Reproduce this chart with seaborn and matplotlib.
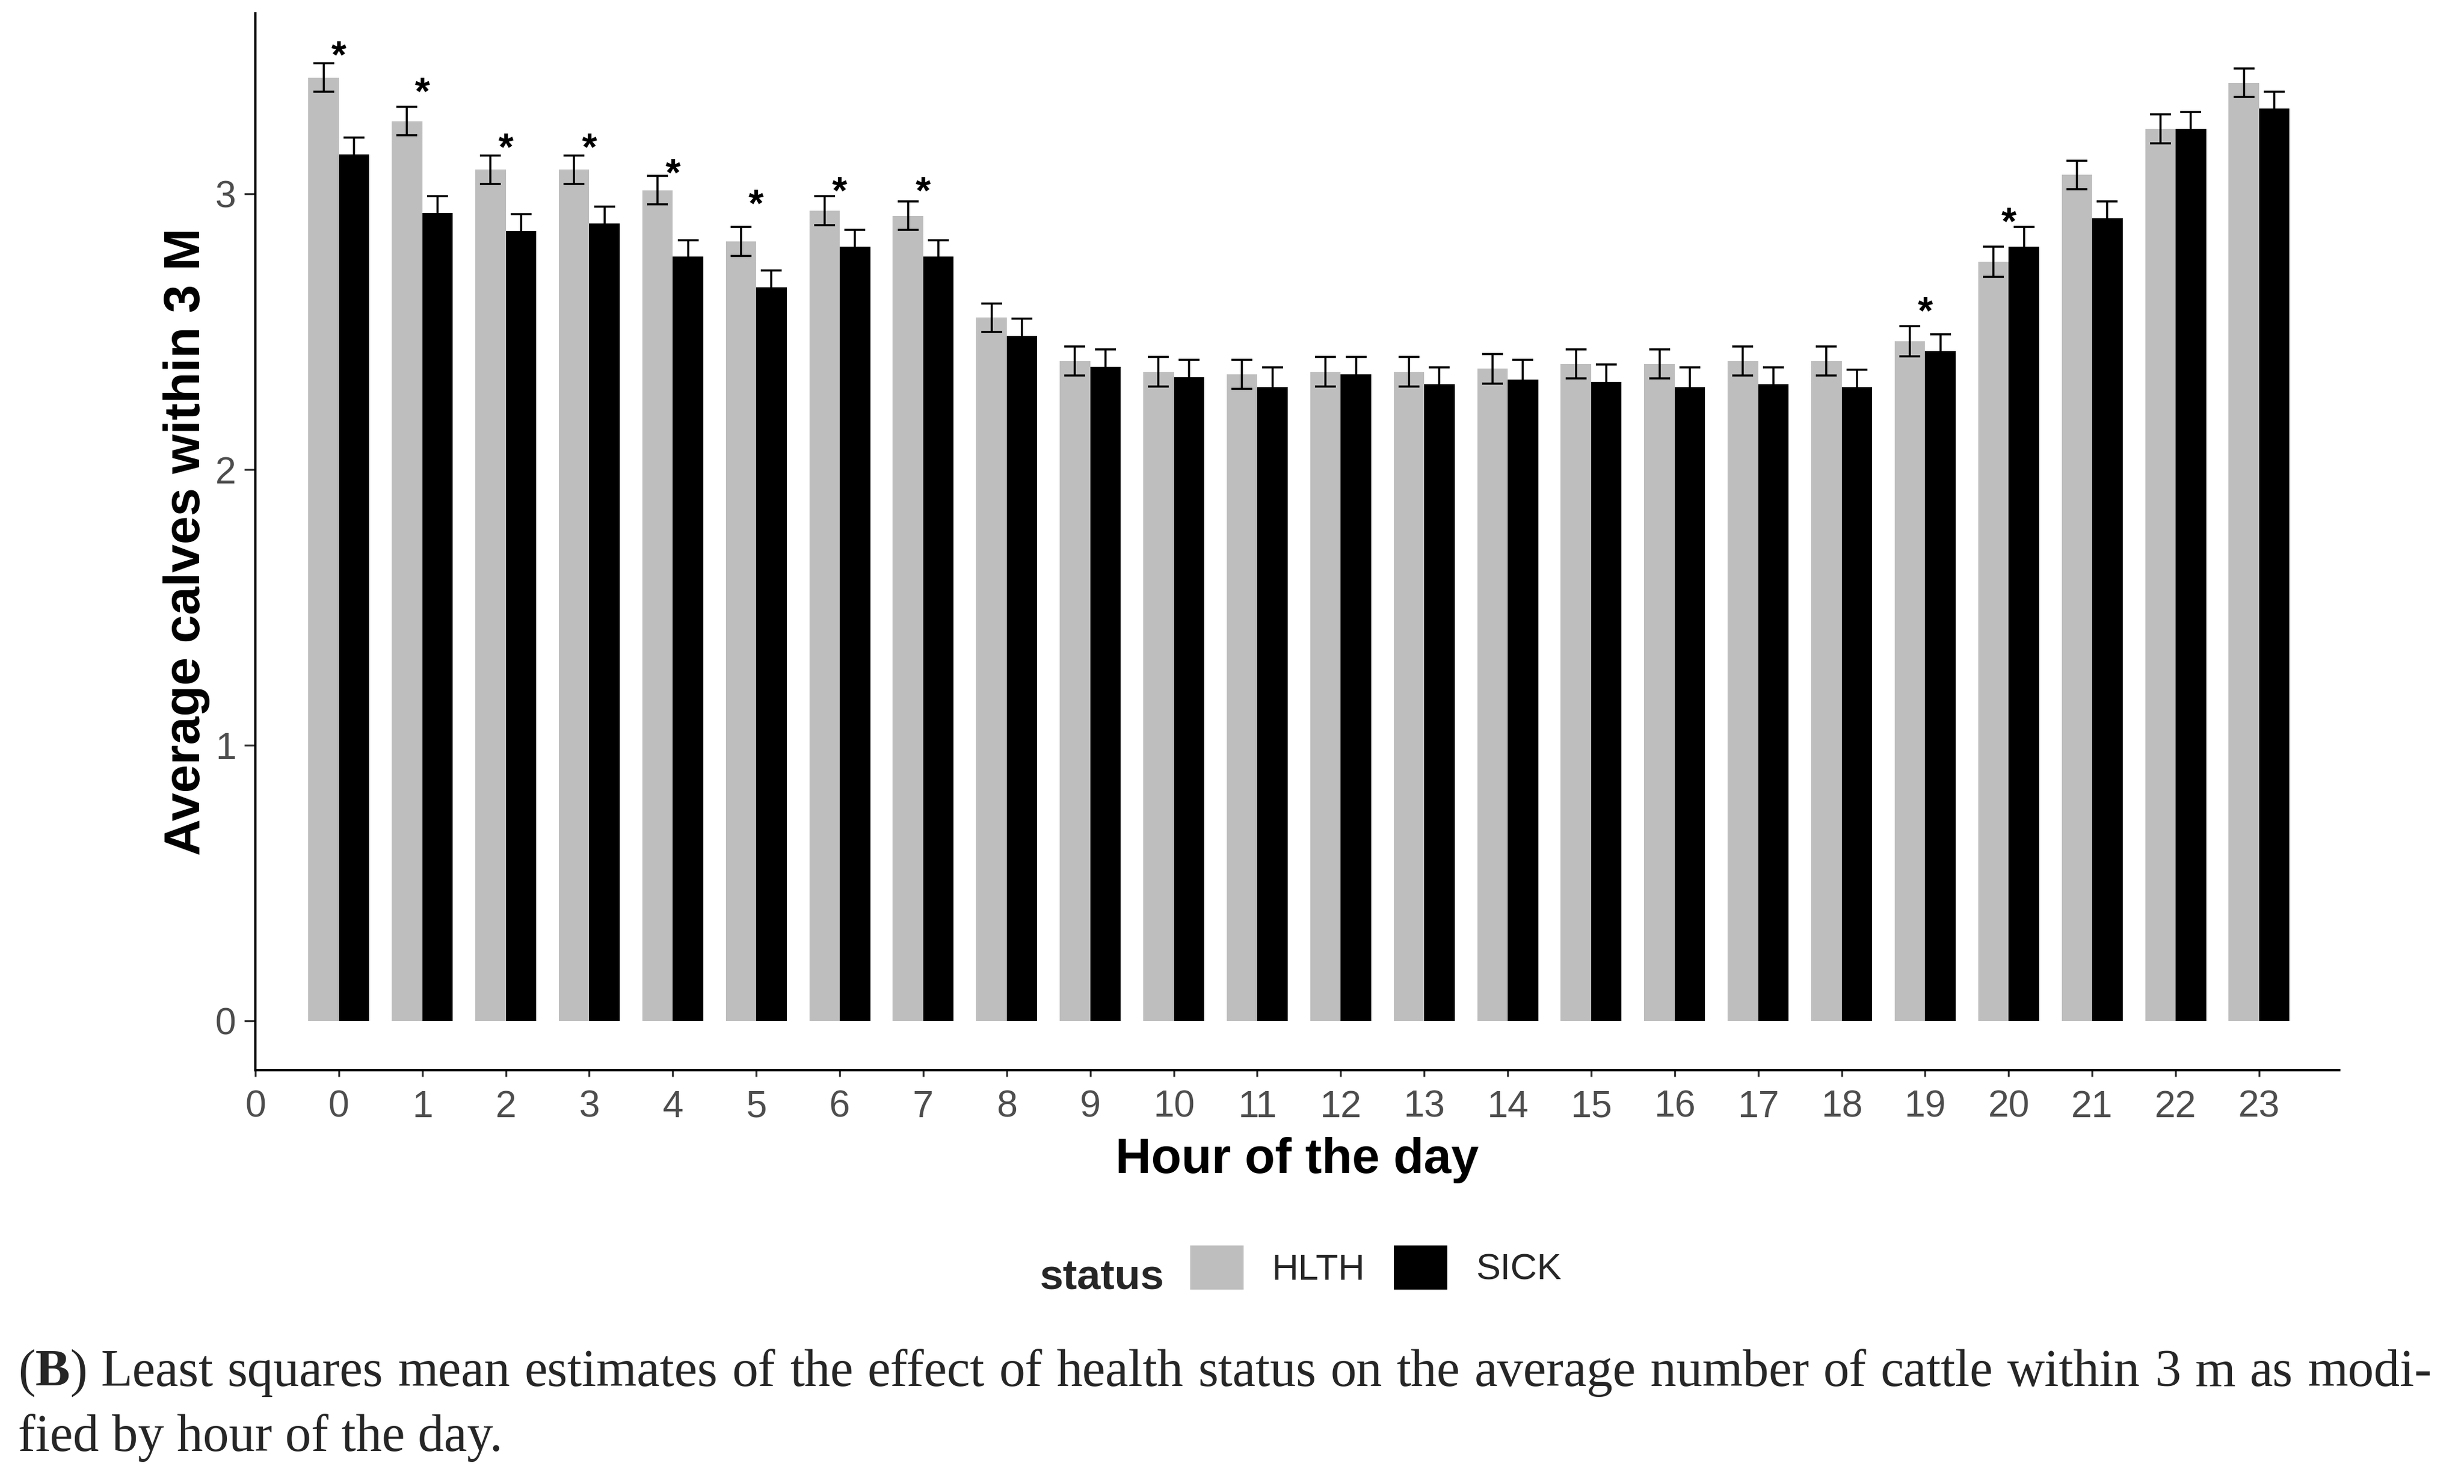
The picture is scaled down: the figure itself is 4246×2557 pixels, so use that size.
import matplotlib
import matplotlib.pyplot as plt
import pandas as pd
import seaborn as sns
from matplotlib.transforms import IdentityTransform

matplotlib.use('agg')

# values
hours = list(range(24))
status_levels = ['HLTH', 'SICK']
hlth_mean = [3.422, 3.264, 3.088, 3.088, 3.014, 2.828, 2.939, 2.921, 2.551, 2.394, 2.355, 2.346,
             2.355, 2.355, 2.366, 2.384, 2.384, 2.394, 2.394, 2.466, 2.754, 3.069, 3.236, 3.403]
hlth_se = [0.052, 0.052, 0.051, 0.051, 0.052, 0.052, 0.052, 0.052, 0.052, 0.052, 0.054, 0.052,
           0.054, 0.054, 0.053, 0.053, 0.053, 0.052, 0.052, 0.055, 0.054, 0.052, 0.053, 0.052]
sick_mean = [3.143, 2.930, 2.866, 2.893, 2.773, 2.661, 2.809, 2.773, 2.485, 2.374, 2.336, 2.300,
             2.346, 2.309, 2.327, 2.319, 2.300, 2.309, 2.300, 2.430, 2.809, 2.912, 3.236, 3.310]
sick_se = [0.062, 0.062, 0.061, 0.061, 0.060, 0.062, 0.061, 0.060, 0.062, 0.062, 0.062, 0.071,
           0.063, 0.062, 0.071, 0.062, 0.070, 0.062, 0.062, 0.061, 0.071, 0.061, 0.061, 0.061]

# significance stars (hour, height of star centre)
star_hours = [0, 1, 2, 3, 4, 5, 6, 7, 19, 20]
star_heights = [3.539, 3.408, 3.204, 3.204, 3.112, 3.000, 3.047, 3.047, 2.611, 2.935]

tick_positions = [-1] + hours
tick_labels = ['0'] + [str(h) for h in hours]
y_ticks = [0, 1, 2, 3]

caption_line1 = (r"($\mathbf{B}$) Least squares mean estimates of the effect of health status "
                 r"on the average number of cattle within 3 m as modi-")
caption_line2 = "fied by hour of the day."

palette = {'HLTH': '#BEBEBE', 'SICK': '#000000'}

df = pd.DataFrame({
    'hour': hours + hours,
    'status': ['HLTH'] * len(hours) + ['SICK'] * len(hours),
    'value': hlth_mean + sick_mean,
})
se_lookup = {'HLTH': dict(zip(hours, hlth_se)), 'SICK': dict(zip(hours, sick_se))}

sns.set_style('white')
plt.rcParams['font.family'] = ['Liberation Sans', 'DejaVu Sans']
plt.rcParams['mathtext.fontset'] = 'custom'
plt.rcParams['mathtext.rm'] = 'Liberation Serif'
plt.rcParams['mathtext.bf'] = 'Liberation Serif:bold'

W, H, DPI = 4246, 2557, 300
fig, ax = plt.subplots(figsize=(W / DPI, H / DPI), dpi=DPI)
fig.subplots_adjust(left=440 / W, right=4031 / W, top=1 - 23 / H, bottom=1 - 1844 / H)

sns.barplot(data=df, x='hour', y='value', hue='status', hue_order=status_levels,
            palette=palette, native_scale=True, width=0.73, errorbar=None,
            legend=False, linewidth=0, ax=ax)
bar_containers = list(ax.containers)

# error bars on top of each bar
for cont, level in zip(bar_containers, status_levels):
    xs, ys, es = [], [], []
    for bar in cont:
        cx = bar.get_x() + bar.get_width() / 2
        xs.append(cx)
        ys.append(bar.get_height())
        es.append(se_lookup[level][int(round(cx))])
    ax.errorbar(xs, ys, yerr=es, fmt='none', ecolor='black', elinewidth=0.85,
                capsize=4.3, capthick=0.85, zorder=3)

for h, sy in zip(star_hours, star_heights):
    ax.annotate('*', xy=(h, sy), xytext=(0, -0.575 * 16), textcoords='offset points',
                ha='center', va='baseline', fontsize=16, fontweight='bold', color='black')

ax.set_xlim(-1.0, 23.96)
ax.set_ylim(-0.178, 3.655)
ax.set_xticks(tick_positions)
ax.set_xticklabels(tick_labels)
ax.set_yticks(y_ticks)
ax.tick_params(axis='x', length=2.6, width=0.8, color='#333333', pad=5.5,
               labelsize=15.5, labelcolor='#4D4D4D', direction='out', bottom=True)
ax.tick_params(axis='y', length=4.5, width=0.8, color='#333333', pad=3.5,
               labelsize=15.5, labelcolor='#4D4D4D', direction='out', left=True)

sns.despine(ax=ax, top=True, right=True)
for side in ['left', 'bottom']:
    ax.spines[side].set_color('black')
    ax.spines[side].set_linewidth(1.0)

ax.set_xlabel('Hour of the day', fontsize=20.5, fontweight='bold', color='black', labelpad=5)
ax.set_ylabel('Average calves within 3 M', fontsize=21, fontweight='bold', color='black', labelpad=2)

# legend at the bottom, title on the left
handles = [cont.patches[0] for cont in bar_containers]
fig.legend(handles, status_levels, loc='center left', bbox_to_anchor=(2051 / W, 1 - 2184 / H),
           ncol=2, frameon=False, fontsize=15.2, handlelength=1.45, handleheight=1.45,
           handletextpad=0.78, columnspacing=0.78, borderpad=0, borderaxespad=0)
fig.text(1791 / W, 1 - 2222 / H, 'status', fontsize=17.5, fontweight='bold', va='baseline', ha='left')

# caption, first line justified to the full width
renderer = fig.canvas.get_renderer()
cap_kw = dict(fontsize=21.5, family='Liberation Serif', va='baseline', ha='left',
              transform=IdentityTransform())
x_left, x_right = 31, 4190
words = caption_line1.split(' ')
word_texts = [fig.text(0, H - 2388, w, **cap_kw) for w in words]
widths = [t.get_window_extent(renderer).width for t in word_texts]
gap = (x_right - x_left - sum(widths)) / (len(words) - 1)
x = x_left
for t, w in zip(word_texts, widths):
    t.set_x(x)
    x += w + gap
fig.text(x_left, H - 2500, caption_line2, **cap_kw)

fig.savefig('out.png', dpi=DPI, facecolor='white')
